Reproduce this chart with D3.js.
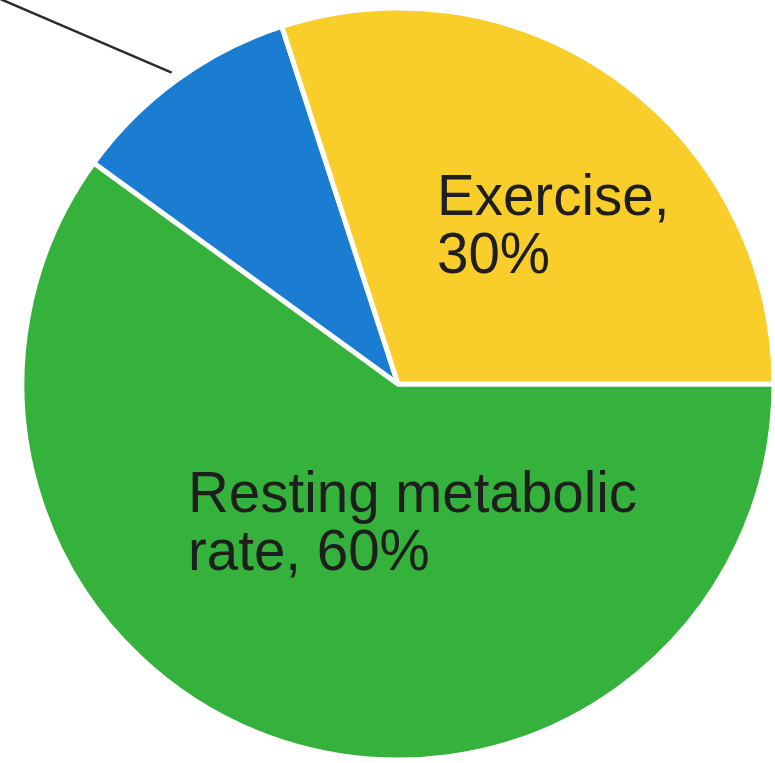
<!DOCTYPE html>
<html>
<head>
<meta charset="utf-8">
<script src="https://cdn.jsdelivr.net/npm/d3@7/dist/d3.min.js"></script>
<style>
  html, body { margin: 0; padding: 0; background: #fff; overflow: hidden; }
  svg { display: block; }
</style>
</head>
<body>
<div id="chart"></div>
<script>
// data
var categories = ["Resting metabolic rate", "Thermic effect of food", "Exercise"];
var shares = [60, 10, 30];
var colours = ["#35b23c", "#1a7dd2", "#f9cd2a"];
// label lines, empty for the slice whose label sits outside the picture
var labelLines = [["Resting metabolic", "rate, 60%"], [], ["Exercise,", "30%"]];

var width = 775, height = 763;
var cx = 398, cy = 384, radius = 376;

var svg = d3.select("#chart").append("svg")
    .attr("width", width)
    .attr("height", height);

var g = svg.append("g").attr("transform", "translate(" + cx + "," + cy + ")");

var data = categories.map(function(c, i) {
    return {name: c, value: shares[i], colour: colours[i], lines: labelLines[i]};
});

// start at 3 o'clock and go clockwise
var pie = d3.pie()
    .sort(null)
    .value(function(d) { return d.value; })
    .startAngle(Math.PI / 2)
    .endAngle(Math.PI / 2 + 2 * Math.PI);

var arc = d3.arc().innerRadius(0).outerRadius(radius);
var arcs = pie(data);

g.selectAll("path.slice")
    .data(arcs)
    .enter()
    .append("path")
    .attr("class", "slice")
    .attr("d", arc)
    .style("fill", function(d) { return d.data.colour; })
    .style("stroke", "#fff")
    .style("stroke-width", 5)
    .style("stroke-linejoin", "round");

// leader line for the small slice (label is off the picture)
var small = arcs[1];
var mid = (small.startAngle + small.endAngle) / 2;
var r0 = radius + 9;
var x0 = r0 * Math.sin(mid), y0 = -r0 * Math.cos(mid);
g.append("line")
    .attr("x1", x0).attr("y1", y0)
    .attr("x2", x0 - 210).attr("y2", y0 - 90)
    .style("stroke", "#2b2b2b")
    .style("stroke-width", 2.5);

// labels inside slices (left aligned, offsets relative to centre)
var labelPos = {
    "Resting metabolic rate": [-210, 128],
    "Exercise": [39, -169]
};
var lineGap = 58;

arcs.forEach(function(d) {
    if (!d.data.lines.length) return;
    var p = labelPos[d.data.name];
    var t = g.append("text")
        .attr("x", p[0])
        .attr("y", p[1])
        .attr("font-family", "'Liberation Sans', Arial, Helvetica, sans-serif")
        .attr("font-size", "56.5px")
        .style("fill", "#1e1e1e");
    d.data.lines.forEach(function(line, i) {
        t.append("tspan")
            .attr("x", p[0])
            .attr("dy", i === 0 ? 0 : lineGap)
            .text(line);
    });
});
</script>
</body>
</html>
